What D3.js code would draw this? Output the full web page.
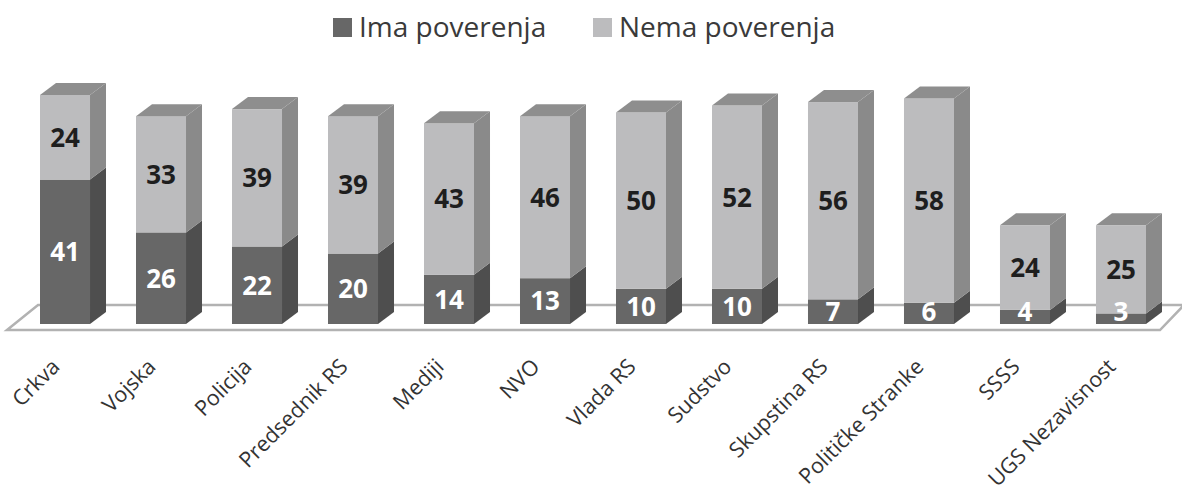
<!DOCTYPE html>
<html>
<head>
<meta charset="utf-8">
<script src="https://cdn.jsdelivr.net/npm/d3@7"></script>
<style>
  html, body { margin: 0; padding: 0; background: #ffffff; }
  svg { display: block; }
</style>
</head>
<body>
<script>
const categories = ["Crkva", "Vojska", "Policija", "Predsednik RS", "Mediji", "NVO", "Vlada RS", "Sudstvo", "Skupstina RS", "Političke Stranke", "SSSS", "UGS Nezavisnost"];
const imaPoverenja = [41, 26, 22, 20, 14, 13, 10, 10, 7, 6, 4, 3];
const nemaPoverenja = [24, 33, 39, 39, 43, 46, 50, 52, 56, 58, 24, 25];
const seriesNames = ["Ima poverenja", "Nema poverenja"];

const W = 1182, H = 491;
const svg = d3.select("body").append("svg").attr("width", W).attr("height", H);

const x = d3.scaleBand().domain(categories).range([40, 1146]).paddingInner(0.479).paddingOuter(0);
const y = d3.scaleLinear().domain([0, 65]).range([324, 95]);

const DX = 16, DY = 12; // bar depth offset
const colors = {
  ima: { front: "#676767", side: "#4e4e4e", top: "#5a5a5a" },
  nema: { front: "#bcbcbe", side: "#8a8a8a", top: "#8e8e8e" }
};

// floor
const y0 = y(0);
svg.append("polygon")
  .attr("points", [[7, y0 + 6], [38, y0 - 19], [1184, y0 - 19], [1160, y0 + 6]].map(p => p.join(",")).join(" "))
  .attr("fill", "#ffffff")
  .attr("stroke", "#b2b2b2")
  .attr("stroke-width", 2.5)
  .attr("stroke-linejoin", "miter");

const pts = arr => arr.map(p => p.join(",")).join(" ");

const stacks = categories.map((c, i) => ({
  cat: c,
  segs: [
    { key: "ima", v: imaPoverenja[i], lo: 0, hi: imaPoverenja[i] },
    { key: "nema", v: nemaPoverenja[i], lo: imaPoverenja[i], hi: imaPoverenja[i] + nemaPoverenja[i] }
  ]
}));

const bw = x.bandwidth();
const g = svg.append("g");
stacks.forEach(st => {
  const xl = x(st.cat), xr = xl + bw;
  st.segs.forEach((s, si) => {
    const yb = y(s.lo), yt = y(s.hi);
    const col = colors[s.key];
    g.append("polygon").attr("points", pts([[xr, yt], [xr + DX, yt - DY], [xr + DX, yb - DY], [xr, yb]])).attr("fill", col.side);
    g.append("rect").attr("x", xl).attr("y", yt).attr("width", bw).attr("height", yb - yt).attr("fill", col.front);
    if (si === st.segs.length - 1) {
      g.append("polygon").attr("points", pts([[xl, yt], [xl + DX, yt - DY], [xr + DX, yt - DY], [xr, yt]])).attr("fill", col.top);
    }
  });
});

// data labels
stacks.forEach(st => {
  const cx = x(st.cat) + bw / 2;
  st.segs.forEach(s => {
    let cy = (y(s.lo) + y(s.hi)) / 2;
    if (s.key === "ima") cy = Math.min(cy, y0 - 12);
    svg.append("text")
      .attr("x", cx).attr("y", cy)
      .attr("dy", "0.36em")
      .attr("text-anchor", "middle")
      .attr("font-family", "'Open Sans', sans-serif")
      .attr("font-weight", "bold")
      .attr("font-size", 26)
      .attr("fill", s.key === "ima" ? "#ffffff" : "#1e1e1e")
      .text(s.v);
  });
});

// category labels
categories.forEach(c => {
  const ax = x(c) + bw / 2 - 4, ay = 368;
  svg.append("text")
    .attr("transform", `translate(${ax},${ay}) rotate(-45)`)
    .attr("text-anchor", "end")
    .attr("font-family", "'Open Sans', sans-serif")
    .attr("font-size", 21.5)
    .attr("fill", "#333333")
    .text(c);
});

// legend
const legend = [
  { name: seriesNames[0], color: colors.ima.front, sx: 333 },
  { name: seriesNames[1], color: colors.nema.front, sx: 593 }
];
legend.forEach(l => {
  svg.append("rect").attr("x", l.sx).attr("y", 18).attr("width", 19).attr("height", 19).attr("fill", l.color);
  svg.append("text")
    .attr("x", l.sx + 26).attr("y", 37)
    .attr("font-family", "'Open Sans', sans-serif")
    .attr("font-size", 28)
    .attr("fill", "#3a3a3a")
    .text(l.name);
});
</script>
</body>
</html>
